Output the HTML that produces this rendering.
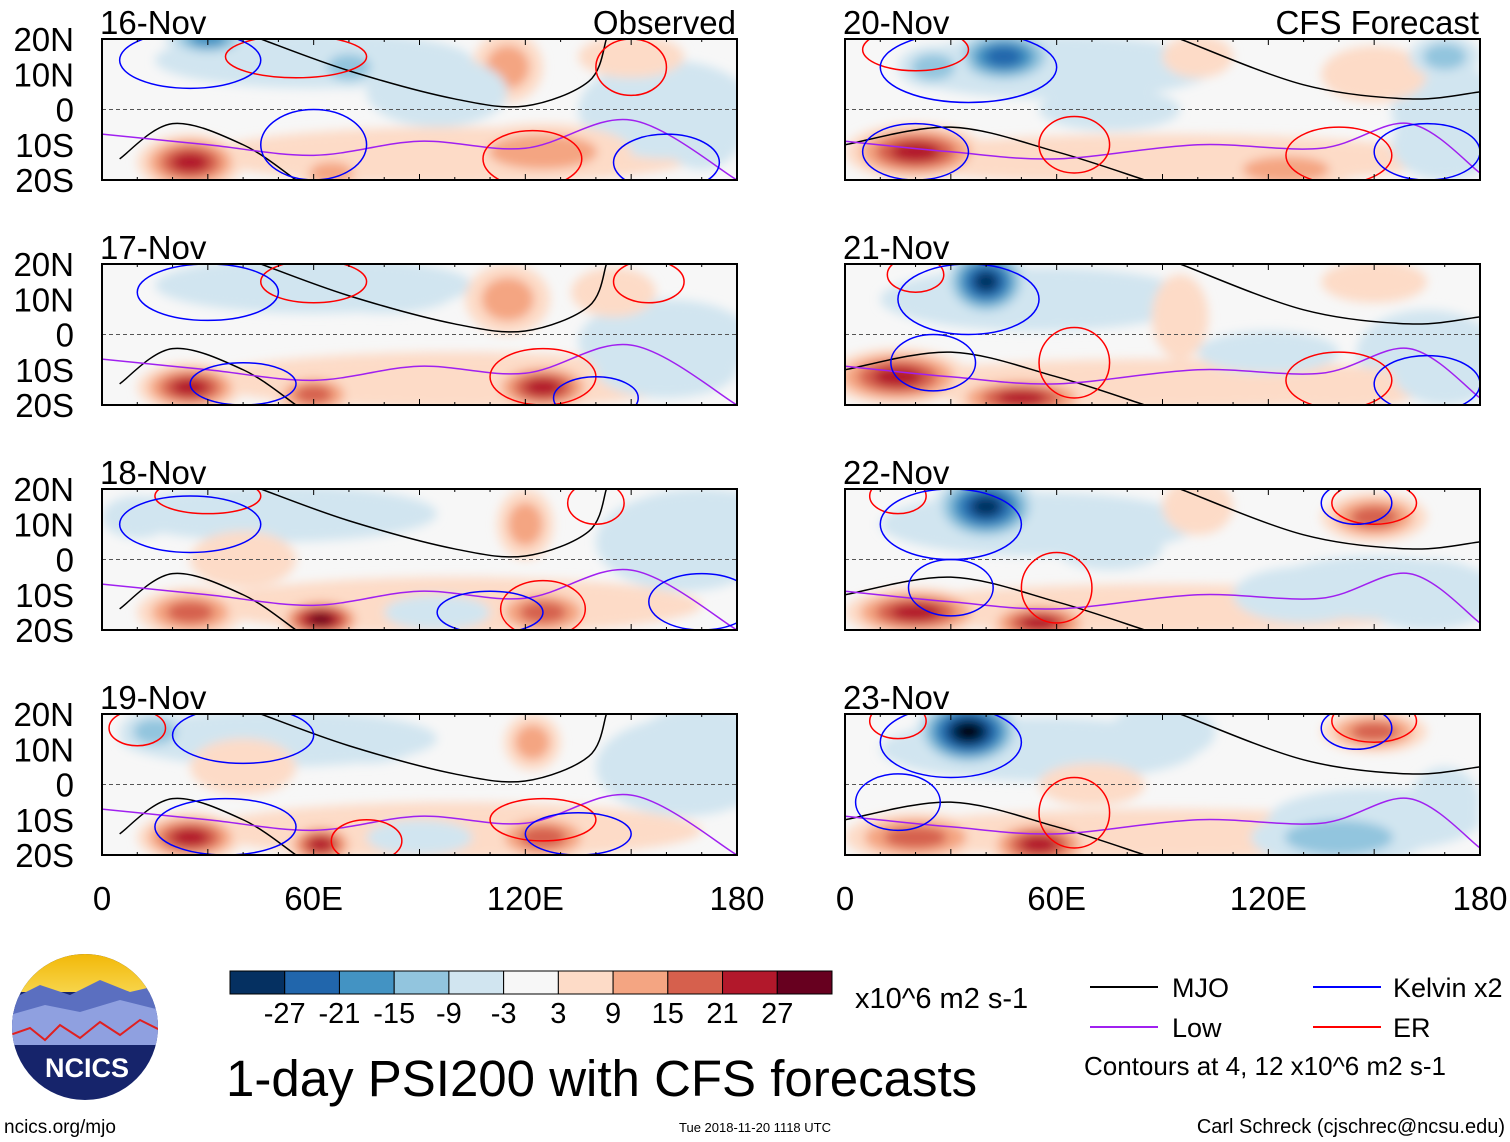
<!DOCTYPE html>
<html><head><meta charset="utf-8"><style>
body{margin:0;background:#fff;width:1510px;height:1142px;overflow:hidden;font-family:"Liberation Sans",sans-serif}
svg{position:absolute;left:0;top:0}
</style></head><body>
<svg id="s" width="1510" height="1142" viewBox="0 0 1510 1142" font-family="Liberation Sans, sans-serif">
<defs><filter id="bl" x="-20%" y="-20%" width="140%" height="140%"><feGaussianBlur stdDeviation="5"/></filter>
<linearGradient id="sky" x1="0" y1="0" x2="0" y2="1"><stop offset="0" stop-color="#f2b705"/><stop offset="1" stop-color="#f7d44a"/></linearGradient></defs>
</svg>
<script>
const NS='http://www.w3.org/2000/svg';
const svg=document.getElementById('s');
function mk(t,a,p){const e=document.createElementNS(NS,t);for(const k in a)e.setAttribute(k,a[k]);(p||svg).appendChild(e);return e;}

const levelColors=['#053061','#2166ac','#4393c3','#92c5de','#d1e5f0','#f7f7f7','#fddbc7','#f4a582','#d6604d','#b2182b','#67001f'];
const levelLabels=['-27','-21','-15','-9','-3','3','9','15','21','27'];
const panelTitles=['16-Nov','17-Nov','18-Nov','19-Nov','20-Nov','21-Nov','22-Nov','23-Nov'];
const latTicks=['20N','10N','0','10S','20S'];
const lonTicks=['0','60E','120E','180'];
// broad weak fields shared per panel: [lon, lat, level, rx deg, ry deg]
const broadFields=[
 [[60,14,-1,45,8],[100,-13,1,70,8],[160,0,-1,25,14]],
 [[60,14,-1,45,8],[100,-13,1,70,8],[160,-2,-1,25,12]],
 [[50,13,-1,45,8],[100,-13,1,70,8],[165,5,-1,25,14]],
 [[50,13,-1,45,8],[100,-13,1,70,8],[165,5,-1,25,14]],
 [[60,12,-1,45,9],[90,-14,1,80,7],[170,0,-1,15,14]],
 [[55,10,-1,45,9],[90,-14,1,80,7],[165,-5,-1,20,12]],
 [[55,10,-1,45,9],[90,-14,1,80,7],[150,-8,-1,30,9]],
 [[55,10,-1,45,9],[90,-14,1,80,7],[150,-10,-1,30,9]]
];
// blobs: [lon, lat, level(+/-), rx deg, ry deg]
const blobs=[
 [[25,-15,4,15,8],[65,-18,2,10,5],[125,-12,2,25,8],[115,12,2,10,10],[150,15,1,15,6],[30,20,-3,12,5],[70,12,-2,10,6],[95,5,-1,20,10],[170,-5,-1,12,12]],
 [[25,-15,4,15,7],[60,-17,3,12,6],[125,-15,4,15,7],[115,10,2,12,10],[145,12,1,12,7],[80,12,-1,20,6],[50,15,-1,15,6],[160,-10,-1,20,8]],
 [[25,-15,3,15,7],[62,-17,5,12,6],[125,-15,3,15,7],[120,10,2,8,10],[40,0,1,15,8],[70,12,-1,15,6],[170,10,-1,25,10],[10,12,-1,10,6],[95,-15,-1,15,5]],
 [[25,-15,4,15,7],[62,-17,4,10,6],[125,-15,3,15,7],[122,12,2,8,8],[40,5,1,15,8],[75,12,-1,15,6],[170,10,-1,20,12],[90,-15,-1,15,5],[15,15,-2,10,6]],
 [[20,-12,4,20,8],[125,-17,2,20,6],[150,10,1,15,8],[45,15,-4,15,8],[25,12,-2,10,6],[170,15,-2,10,6],[170,-10,-1,15,10],[100,15,1,10,6],[75,0,-1,20,6]],
 [[15,-12,4,20,8],[50,-18,4,20,6],[140,-15,1,25,6],[40,15,-5,12,10],[150,15,1,15,6],[95,5,1,8,12],[170,-10,-1,15,10],[120,-5,-1,20,6]],
 [[20,-15,4,20,7],[55,-18,4,15,6],[150,12,3,15,7],[40,15,-5,15,10],[100,15,1,10,8],[165,-10,-1,20,10],[130,-10,-1,20,8],[75,3,-1,15,6]],
 [[20,-15,3,20,7],[55,-17,4,15,7],[150,15,3,15,6],[35,15,-6,15,10],[90,15,-1,15,8],[140,-15,-2,25,8],[170,-5,-1,10,10],[70,0,1,15,6]]
];
const mjoLeft=[[45,20],[70,11],[100,3],[120,1],[138,8],[143,20]];
const mjoLeftS=[[5,-14],[20,-4],[40,-10],[55,-20]];
const mjoRight=[[95,20],[130,7],[160,3],[180,5]];
const mjoRightS=[[0,-10],[30,-5],[60,-12],[85,-20]];
const lowLeft=[[0,-7],[30,-10],[60,-13],[90,-9],[120,-11],[150,-3],[180,-20]];
const lowRight=[[0,-9],[30,-12],[60,-14],[100,-10],[135,-11],[160,-4],[180,-18]];
// ellipses: [lon, lat, rx, ry]
const erLoops=[
 [[55,15,20,6],[122,-14,14,8],[150,12,10,8]],
 [[60,15,15,6],[125,-12,15,8],[155,15,10,6]],
 [[30,18,15,5],[125,-14,12,8],[140,16,8,6]],
 [[10,16,8,5],[125,-10,15,6],[75,-16,10,6]],
 [[20,17,15,6],[65,-10,10,8],[140,-13,15,8]],
 [[20,17,8,5],[65,-8,10,10],[140,-13,15,8]],
 [[15,18,8,5],[60,-8,10,10],[150,16,12,6]],
 [[15,18,8,5],[65,-8,10,10],[150,18,12,6]]
];
const kelvinLoops=[
 [[25,14,20,8],[60,-10,15,10],[160,-15,15,8]],
 [[30,12,20,8],[40,-14,15,6],[140,-18,12,6]],
 [[25,10,20,8],[110,-15,15,6],[170,-12,15,8]],
 [[40,14,20,8],[35,-12,20,8],[135,-14,15,6]],
 [[35,12,25,10],[20,-12,15,8],[165,-12,15,8]],
 [[35,10,20,10],[25,-8,12,8],[165,-14,15,8]],
 [[30,10,20,10],[30,-8,12,8],[145,16,10,6]],
 [[30,12,20,10],[15,-5,12,8],[145,16,10,6]]
];

const lefts=[102,845], W=635, tops=[39,264,489,714], H=141;
function smooth(pts){let d='M'+pts[0][0]+','+pts[0][1];for(let i=0;i<pts.length-1;i++){const p0=pts[Math.max(i-1,0)],p1=pts[i],p2=pts[i+1],p3=pts[Math.min(i+2,pts.length-1)];
d+=' C'+(p1[0]+(p2[0]-p0[0])/6)+','+(p1[1]+(p2[1]-p0[1])/6)+' '+(p2[0]-(p3[0]-p1[0])/6)+','+(p2[1]-(p3[1]-p1[1])/6)+' '+p2[0]+','+p2[1];}return d;}

for(let p=0;p<8;p++){
 const col=p<4?0:1,row=p%4,x0=lefts[col],y0=tops[row];
 const X=lon=>x0+lon/180*W, Y=lat=>y0+(20-lat)/40*H, sx=W/180, sy=H/40;
 const g=mk('g',{});
 
 
 const cid='c'+p;
 const cp=mk('clipPath',{id:cid},svg);mk('rect',{x:x0,y:y0,width:W,height:H},cp);
 mk('rect',{x:x0,y:y0,width:W,height:H,fill:'#f7f7f7'},g);
 const fg=mk('g',{'clip-path':'url(#'+cid+')'},g);
 const bg=mk('g',{filter:'url(#bl)'},fg);
 broadFields[p].concat(blobs[p]).forEach(b=>{
  const n=Math.abs(b[2]),s=Math.sign(b[2]);
  for(let k=1;k<=n;k++){const f=1-(k-1)/(n+0.6);
   const e=mk('ellipse',{cx:X(b[0]),cy:Y(b[1]),rx:b[3]*sx*f,ry:b[4]*sy*f,fill:levelColors[5+s*k]},bg);
   
   }
 });
 mk('line',{x1:x0,y1:Y(0),x2:x0+W,y2:Y(0),stroke:'#555','stroke-dasharray':'4,3','stroke-width':1},fg);
 const lines=[[col?mjoRight:mjoLeft,'#000'],[col?mjoRightS:mjoLeftS,'#000'],[col?lowRight:lowLeft,'#a020f0']];
 lines.forEach(l=>{const pa=mk('path',{d:smooth(l[0].map(q=>[X(q[0]),Y(q[1])])),fill:'none',stroke:l[1],'stroke-width':1.5},fg);
  
  });
 erLoops[p].forEach(e=>{const el=mk('ellipse',{cx:X(e[0]),cy:Y(e[1]),rx:e[2]*sx,ry:e[3]*sy,fill:'none',stroke:'#f00','stroke-width':1.5},fg);
  
  });
 kelvinLoops[p].forEach(e=>{const el=mk('ellipse',{cx:X(e[0]),cy:Y(e[1]),rx:e[2]*sx,ry:e[3]*sy,fill:'none',stroke:'#00f','stroke-width':1.5},fg);
  
  });
 mk('rect',{x:x0,y:y0,width:W,height:H,fill:'none',stroke:'#000','stroke-width':2},g);
 for(let lon=0;lon<=180;lon+=10){const len=lon%30==0?6:3;
  mk('line',{x1:X(lon),y1:y0,x2:X(lon),y2:y0+len,stroke:'#000'},g);mk('line',{x1:X(lon),y1:y0+H,x2:X(lon),y2:y0+H-len,stroke:'#000'},g);}
 const t=mk('text',{x:x0-2,y:y0-5,'font-size':33},g);t.textContent=panelTitles[p];
 
 
 if(row==0){const r=mk('text',{x:x0+W-1,y:y0-5,'font-size':33,'text-anchor':'end'},g);r.textContent=col?'CFS Forecast':'Observed';
  
  }
 if(col==0)latTicks.forEach((l,i)=>{const lt=mk('text',{x:74,y:y0+i*H/4+12,'font-size':33,'text-anchor':'end'},g);lt.textContent=l;
  
  });
 if(row==3)lonTicks.forEach((l,i)=>{const lt=mk('text',{x:x0+i*W/3,y:910,'font-size':33,'text-anchor':'middle'});lt.textContent=l;
  
  });
}
// colorbar
const cb=mk('g',{});


const cbx=230,cbw=602/11;
levelColors.forEach((c,i)=>mk('rect',{x:cbx+i*cbw,y:971,width:cbw,height:23,fill:c,stroke:'#000','stroke-width':1},cb));
levelLabels.forEach((l,i)=>{const t=mk('text',{x:cbx+(i+1)*cbw,y:1023,'font-size':29,'text-anchor':'middle'},cb);t.textContent=l;});
const u=mk('text',{x:855,y:1008,'font-size':29},cb);u.textContent='x10^6 m2 s-1';
// legend
const lg=mk('g',{});


[['MJO','#000',1090,1172,987],['Kelvin x2','#00f',1313,1393,987],['Low','#a020f0',1090,1172,1027],['ER','#f00',1313,1393,1027]].forEach(e=>{
 mk('line',{x1:e[2],y1:e[4],x2:e[2]+68,y2:e[4],stroke:e[1],'stroke-width':2},lg);
 const t=mk('text',{x:e[3],y:e[4]+10,'font-size':27},lg);t.textContent=e[0];});
const ct=mk('text',{x:1084,y:1075,'font-size':26},lg);ct.textContent='Contours at 4, 12 x10^6 m2 s-1';
// title and footer
const ti=mk('text',{x:226,y:1096,'font-size':51});ti.textContent='1-day PSI200 with CFS forecasts';


const f1=mk('text',{x:4,y:1133,'font-size':19});f1.textContent='ncics.org/mjo';


const f2=mk('text',{x:755,y:1132,'font-size':13,'text-anchor':'middle'});f2.textContent='Tue 2018-11-20 1118 UTC';


const f3=mk('text',{x:1505,y:1133,'font-size':20,'text-anchor':'end'});f3.textContent='Carl Schreck (cjschrec@ncsu.edu)';


// logo
const lo=mk('g',{});


const lc=mk('clipPath',{id:'lc'});mk('circle',{cx:85,cy:1027,r:73},lc);
const li=mk('g',{'clip-path':'url(#lc)'},lo);
mk('rect',{x:10,y:952,width:150,height:150,fill:'#16246b'},li);
mk('rect',{x:10,y:952,width:150,height:40,fill:'url(#sky)'},li);
mk('path',{d:'M10,1000 L40,985 L70,995 L100,980 L130,992 L160,985 L160,1030 L10,1030Z',fill:'#5b6fc0'},li);
mk('path',{d:'M10,1015 L45,1005 L80,1012 L120,1000 L160,1010 L160,1045 L10,1045Z',fill:'#8fa0e0'},li);
mk('path',{d:'M10,1035 L30,1028 L45,1040 L60,1025 L80,1038 L100,1022 L120,1035 L140,1020 L160,1030',fill:'none',stroke:'#e02020','stroke-width':2},li);
const nt=mk('text',{x:87,y:1077,'font-size':27,'font-weight':'bold',fill:'#fff','text-anchor':'middle'},lo);nt.textContent='NCICS';
</script>
</body></html>
